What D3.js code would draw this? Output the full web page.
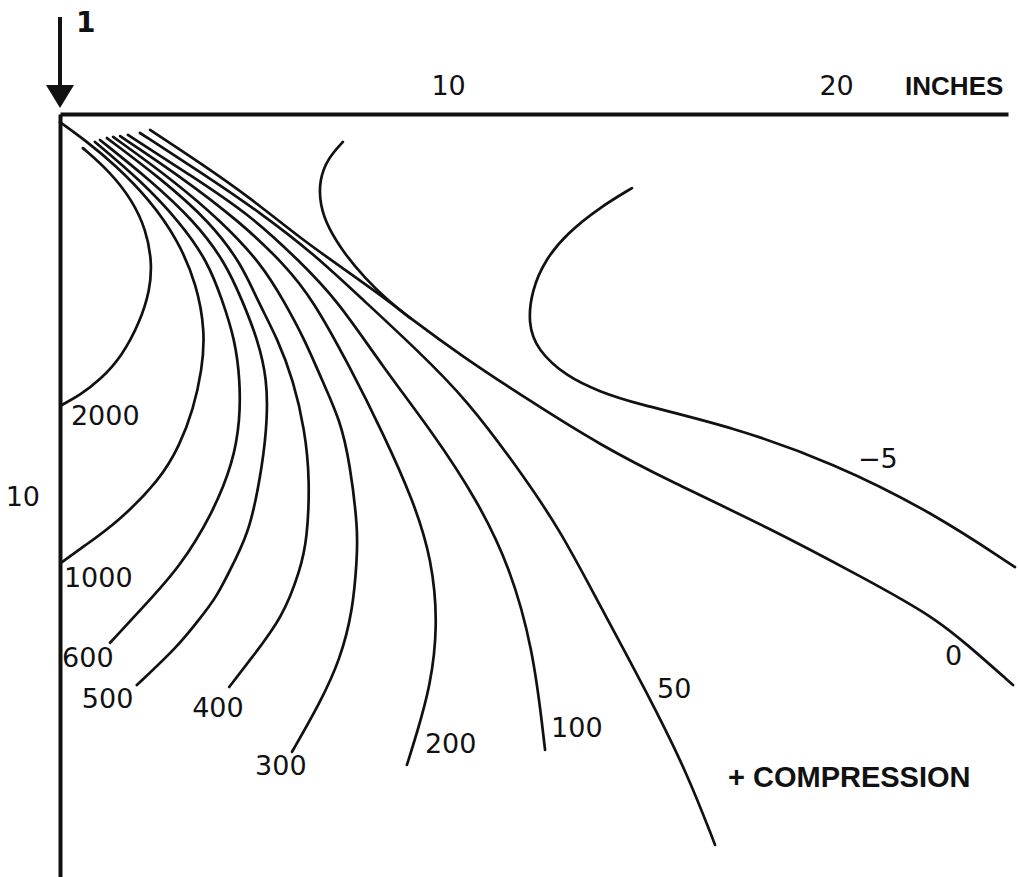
<!DOCTYPE html>
<html>
<head>
<meta charset="utf-8">
<script src="https://cdn.jsdelivr.net/npm/d3@7"></script>
<style>
  body { margin: 0; background: #fff; }
  svg { display: block; }
</style>
</head>
<body>
<svg id="chart" width="1018" height="877"></svg>
<script>
// Contour levels (stress per unit load), points are [inches right, inches down]
var levels = ["2000", "1000", "600", "500", "400", "300", "200", "100", "50", "0", "0", "-5"];

var c2000 = [[0.59,0.88],[1.29,1.49],[1.86,2.22],[2.22,2.99],[2.37,3.81],[2.32,4.54],[2.06,5.36],[1.60,6.24],[1.03,6.86],[0.52,7.24],[0.05,7.50]];
var c1000 = [[0,0.21],[0.64,0.67],[1.42,1.31],[2.32,2.22],[3.04,3.25],[3.53,4.41],[3.74,5.62],[3.66,6.60],[3.43,7.63],[3.09,8.53],[2.58,9.43],[1.47,10.54],[0.59,11.16],[0.05,11.55]];
var c600 = [[0.90,0.72],[2.06,1.70],[3.09,2.78],[3.81,3.81],[4.18,4.79],[4.51,5.82],[4.64,6.86],[4.64,7.89],[4.46,8.99],[3.94,10.28],[3.09,11.68],[2.14,12.71],[1.29,13.63]];
var c500 = [[1.03,0.67],[2.32,1.70],[3.48,2.78],[4.25,3.81],[4.69,4.79],[5.10,5.82],[5.34,6.86],[5.34,7.89],[5.23,8.99],[4.90,10.72],[4.51,11.49],[4.05,12.45],[3.51,13.12],[3.02,13.74],[1.98,14.72]];
var c400 = [[1.21,0.62],[2.58,1.65],[3.87,2.78],[4.69,3.89],[5.08,4.79],[5.62,5.82],[6.01,6.86],[6.31,8.14],[6.44,9.43],[6.37,10.98],[6.19,11.75],[5.75,12.96],[4.90,14.07],[4.36,14.77]];
var c300 = [[1.37,0.59],[2.84,1.65],[4.18,2.78],[5.21,3.89],[5.75,4.79],[6.31,5.82],[6.75,6.86],[7.22,7.89],[7.47,8.99],[7.68,10.72],[7.65,11.49],[7.55,12.78],[7.22,14.07],[6.70,15.18],[5.98,16.44]];
var c200 = [[1.55,0.57],[3.09,1.60],[4.64,2.78],[5.80,3.89],[6.52,4.79],[7.47,6.52],[8.32,8.22],[9.10,9.95],[9.59,11.49],[9.74,13.22],[9.54,14.77],[9.20,15.95],[8.94,16.78]];
var c100 = [[1.75,0.54],[3.35,1.57],[4.90,2.60],[6.19,3.81],[7.14,4.79],[8.32,6.52],[9.61,8.22],[10.75,9.95],[11.60,11.68],[12.19,13.81],[12.45,15.95],[12.50,16.39]];
var c50 = [[2.06,0.49],[3.61,1.49],[5.15,2.53],[6.57,3.63],[7.81,4.79],[9.20,6.08],[10.49,7.37],[11.78,9.10],[12.89,10.72],[13.84,12.53],[15.13,14.92],[16.16,16.98],[16.88,18.84]];
var c0 = [[2.32,0.41],[3.61,1.26],[4.90,2.16],[6.19,3.20],[7.35,4.02],[8.43,4.79],[9.02,5.26],[10.31,6.21],[12.19,7.45],[13.92,8.53],[15.64,9.43],[18.22,10.64],[20.80,12.01],[21.73,12.53],[22.55,13.02],[23.32,13.62],[24.56,14.72]];
var c0top = [[7.29,0.72],[6.91,1.13],[6.68,1.70],[6.70,2.35],[6.91,2.94],[7.35,3.63],[7.86,4.23],[8.43,4.79],[9.02,5.26]];
var cMinus5 = [[14.74,1.91],[13.92,2.40],[13.07,3.07],[12.50,3.76],[12.16,4.54],[12.06,5.39],[12.29,6.08],[13.07,6.78],[13.92,7.16],[14.77,7.45],[17.35,8.07],[19.92,8.99],[22.50,10.28],[24.61,11.68]];

var contours = [c2000, c1000, c600, c500, c400, c300, c200, c100, c50, c0, c0top, cMinus5];

var xTicks = [10, 20];
var yTicks = [10];
var xUnit = "INCHES";
var loadLabel = "1";
var noteText = "+ COMPRESSION";

// where each level's number sits: point index on its curve and pixel offset
var labelPlace = {
    0: {i: -1, dx: 9, dy: 20},
    1: {i: -1, dx: 2, dy: 25},
    2: {i: -1, dx: -48, dy: 24},
    3: {i: -1, dx: -55, dy: 23},
    4: {i: -1, dx: -37, dy: 30},
    5: {i: -1, dx: -37, dy: 23},
    6: {i: -1, dx: 18, dy: -12},
    7: {i: -1, dx: 6, dy: -13},
    8: {i: 10, dx: 10, dy: 5},
    9: {i: 15, dx: -20, dy: 23},
    11: {i: 11, dx: 25, dy: 5}
};

var svg = d3.select("#chart");
var x = d3.scaleLinear().domain([0, 24.43]).range([60, 1008]);
var y = d3.scaleLinear().domain([0, 19.9]).range([114, 886]);

var ink = "#111";
var digitFont = "DejaVu Sans";

// contour lines
var line = d3.line()
    .x(d => x(d[0]))
    .y(d => y(d[1]))
    .curve(d3.curveBasis);

svg.append("g")
    .selectAll("path")
    .data(contours)
    .enter().append("path")
    .attr("d", line)
    .attr("fill", "none")
    .attr("stroke", ink)
    .attr("stroke-width", 2.7)
    .attr("stroke-linecap", "round");

// level numbers
svg.append("g")
    .selectAll("text")
    .data(d3.range(contours.length).filter(k => labelPlace[k]))
    .enter().append("text")
    .attr("x", k => {
        var pts = contours[k], p = labelPlace[k];
        var pt = p.i < 0 ? pts[pts.length - 1] : pts[p.i];
        return x(pt[0]) + p.dx;
    })
    .attr("y", k => {
        var pts = contours[k], p = labelPlace[k];
        var pt = p.i < 0 ? pts[pts.length - 1] : pts[p.i];
        return y(pt[1]) + p.dy;
    })
    .style("font-family", digitFont)
    .style("font-size", "27px")
    .attr("fill", ink)
    .text(k => levels[k].replace("-", "\u2212"));

// top axis
var xAxis = svg.append("g")
    .attr("transform", "translate(0," + y(0) + ")")
    .call(d3.axisTop(x).tickValues(xTicks).tickSize(0).tickSizeOuter(0).tickPadding(19));
xAxis.select(".domain").attr("stroke", ink).attr("stroke-width", 4);
xAxis.selectAll("text")
    .style("font-family", digitFont)
    .style("font-size", "27px")
    .attr("fill", ink);

svg.append("text")
    .attr("x", x(20) + 69)
    .attr("y", y(0) - 19)
    .style("font-family", "Liberation Sans")
    .style("font-weight", "bold")
    .style("font-size", "26px")
    .attr("fill", ink)
    .text(xUnit);

// left axis
var yAxis = svg.append("g")
    .attr("transform", "translate(" + x(0) + ",0)")
    .call(d3.axisLeft(y).tickValues(yTicks).tickSize(0).tickSizeOuter(0).tickPadding(20));
yAxis.select(".domain").attr("stroke", ink).attr("stroke-width", 4);
yAxis.selectAll("text")
    .attr("dy", "0.12em")
    .style("font-family", digitFont)
    .style("font-size", "27px")
    .attr("fill", ink);

// point load arrow
var lx = x(0), ly = y(0);
svg.append("line")
    .attr("x1", lx).attr("x2", lx)
    .attr("y1", ly - 97).attr("y2", ly - 26)
    .attr("stroke", ink)
    .attr("stroke-width", 4);
svg.append("path")
    .attr("d", "M" + (lx - 14) + "," + (ly - 29) + "L" + (lx + 14) + "," + (ly - 29) + "L" + lx + "," + (ly - 6) + "Z")
    .attr("fill", ink);
svg.append("text")
    .attr("x", lx + 16)
    .attr("y", ly - 82)
    .style("font-family", digitFont)
    .style("font-weight", "bold")
    .style("font-size", "28px")
    .attr("fill", ink)
    .text(loadLabel);

// sign note
svg.append("text")
    .attr("x", 728)
    .attr("y", 787)
    .style("font-family", "Liberation Sans")
    .style("font-weight", "bold")
    .style("font-size", "29px")
    .attr("fill", ink)
    .text(noteText);
</script>
</body>
</html>
